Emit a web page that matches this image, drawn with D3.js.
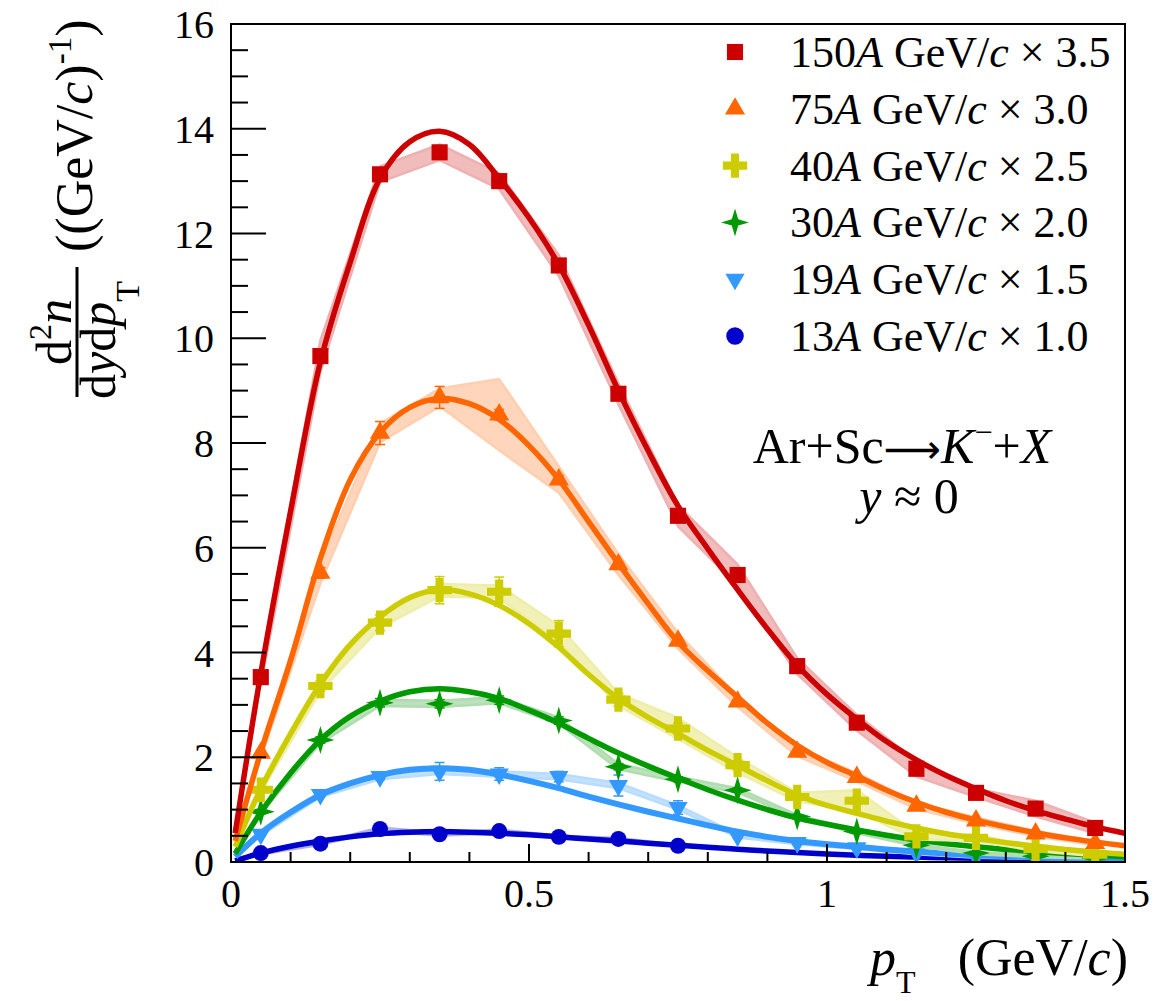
<!DOCTYPE html>
<html lang="en">
<head>
    <meta charset="utf-8">
    <title>K- spectra Ar+Sc</title>
    <script src="https://d3js.org/d3.v7.min.js"></script>
    <style>
        body { margin: 0; background: #fff; }
        text { font-family: "Liberation Serif", "Times New Roman", serif; fill: #000; }
    </style>
</head>
<body>
    <script>
        // measured pT bin centres (GeV/c)
        var ptX = [0.05, 0.15, 0.25, 0.35, 0.45, 0.55, 0.65, 0.75, 0.85, 0.95, 1.05, 1.15, 1.25, 1.35, 1.45];
        // pT where the fitted curves are read
        var fitX = [0.007, 0.05, 0.1, 0.15, 0.2, 0.25, 0.3, 0.35, 0.4, 0.45, 0.5, 0.55, 0.6, 0.65, 0.7, 0.75,
            0.8, 0.85, 0.9, 0.95, 1.0, 1.05, 1.1, 1.15, 1.2, 1.25, 1.3, 1.35, 1.4, 1.45, 1.5];

        var labels = ["150", "75", "40", "30", "19", "13"];
        var factors = ["3.5", "3.0", "2.5", "2.0", "1.5", "1.0"];
        var colors = ["#cc0000", "#ff6600", "#cccc00", "#009900", "#3399ff", "#0000cc"];
        var bandColors = ["#eeb0b0", "#ffcfb0", "#eeeeaa", "#b0dcb0", "#b8dcff", "#b0b0ee"];

        // data points (scaled)
        var v150 = [3.53, 9.66, 13.13, 13.55, 13.00, 11.39, 8.94, 6.61, 5.48, 3.74, 2.66, 1.78, 1.32, 1.02, 0.65];
        var v75 = [2.08, 5.52, 8.19, 8.87, 8.54, 7.30, 5.68, 4.22, 3.06, 2.10, 1.62, 1.07, 0.79, 0.54, 0.36];
        var v40 = [1.38, 3.36, 4.57, 5.19, 5.16, 4.36, 3.10, 2.55, 1.85, 1.24, 1.17, 0.49, 0.46, 0.25, 0.14];
        var v30 = [0.96, 2.33, 3.04, 3.02, 3.09, 2.70, 1.82, 1.58, 1.37, 0.87, 0.58, 0.32, 0.17, 0.11, 0.07];
        var v19 = [0.53, 1.29, 1.63, 1.73, 1.68, 1.63, 1.46, 1.04, 0.50, 0.37, 0.27, 0.17, 0.10, 0.07, 0.04];
        var v13 = [0.17, 0.35, 0.63, 0.53, 0.59, 0.48, 0.44, 0.31];

        // systematic uncertainties (bands)
        var sys150 = [0.15, 0.3, 0.15, 0.15, 0.15, 0.2, 0.2, 0.2, 0.2, 0.15, 0.15, 0.15, 0.08, 0.15, 0.1];
        var sys75 = [0.1, 0.2, 0.18, 0.17, 0.68, 0.25, 0.2, 0.15, 0.1, 0.08, 0.08, 0.06, 0.06, 0.05, 0.04];
        var sys40 = [0.05, 0.1, 0.1, 0.12, 0.12, 0.15, 0.12, 0.2, 0.15, 0.08, 0.2, 0.06, 0.06, 0.04, 0.03];
        var sys30 = [0.04, 0.06, 0.06, 0.06, 0.06, 0.06, 0.05, 0.05, 0.04, 0.03, 0.03, 0.02, 0.02, 0.02, 0.01];
        var sys19 = [0.03, 0.05, 0.05, 0.05, 0.05, 0.05, 0.05, 0.04, 0.03, 0.03, 0.02, 0.02, 0.02, 0.01, 0.01];
        var sys13 = [0.02, 0.02, 0.03, 0.03, 0.03, 0.02, 0.02, 0.02];

        // statistical uncertainties (error bars)
        var stat150 = [0.05, 0.1, 0.1, 0.1, 0.1, 0.08, 0.07, 0.06, 0.05, 0.04, 0.04, 0.03, 0.03, 0.03, 0.02];
        var stat75 = [0.05, 0.1, 0.22, 0.21, 0.1, 0.08, 0.06, 0.05, 0.04, 0.03, 0.03, 0.02, 0.02, 0.02, 0.02];
        var stat40 = [0.05, 0.1, 0.15, 0.26, 0.28, 0.25, 0.12, 0.1, 0.08, 0.06, 0.06, 0.04, 0.03, 0.03, 0.02];
        var stat30 = [0.04, 0.06, 0.08, 0.08, 0.08, 0.07, 0.06, 0.05, 0.04, 0.03, 0.03, 0.02, 0.02, 0.02, 0.01];
        var stat19 = [0.03, 0.05, 0.06, 0.17, 0.12, 0.1, 0.2, 0.13, 0.05, 0.04, 0.03, 0.02, 0.02, 0.02, 0.01];
        var stat13 = [0.02, 0.03, 0.04, 0.04, 0.04, 0.03, 0.03, 0.02];

        // fitted curves
        var fit150 = [0.55, 3.6, 6.7, 9.55, 11.45, 13.05, 13.75, 13.95, 13.7, 13.05, 12.3, 11.4, 10.25, 9.0, 7.85, 6.8,
            5.98, 5.2, 4.45, 3.76, 3.2, 2.73, 2.3, 1.95, 1.65, 1.4, 1.17, 0.98, 0.82, 0.67, 0.55];
        var fit75 = [0.4, 2.1, 3.85, 5.8, 7.3, 8.2, 8.68, 8.85, 8.75, 8.45, 7.95, 7.3, 6.5, 5.7, 4.93, 4.2,
            3.65, 3.15, 2.65, 2.23, 1.9, 1.64, 1.37, 1.14, 0.95, 0.8, 0.67, 0.56, 0.46, 0.38, 0.31];
        var fit40 = [0.29, 1.4, 2.45, 3.4, 4.15, 4.68, 5.05, 5.2, 5.12, 4.9, 4.55, 4.1, 3.58, 3.12, 2.76, 2.45,
            2.13, 1.84, 1.55, 1.28, 1.08, 0.93, 0.78, 0.65, 0.54, 0.45, 0.37, 0.3, 0.24, 0.19, 0.15];
        var fit30 = [0.16, 0.95, 1.7, 2.33, 2.78, 3.07, 3.25, 3.31, 3.25, 3.12, 2.9, 2.65, 2.36, 2.08, 1.83, 1.6,
            1.38, 1.18, 1.0, 0.84, 0.72, 0.61, 0.51, 0.42, 0.35, 0.29, 0.24, 0.2, 0.16, 0.13, 0.1];
        var fit19 = [0.1, 0.55, 0.95, 1.28, 1.5, 1.66, 1.76, 1.79, 1.76, 1.67, 1.55, 1.41, 1.25, 1.1, 0.96, 0.83,
            0.7, 0.58, 0.48, 0.4, 0.34, 0.29, 0.24, 0.2, 0.16, 0.13, 0.11, 0.09, 0.07, 0.06, 0.05];
        var fit13 = [0.02, 0.17, 0.3, 0.4, 0.48, 0.54, 0.57, 0.58, 0.57, 0.55, 0.52, 0.48, 0.44, 0.4, 0.36, 0.32,
            0.28, 0.245, 0.21, 0.18, 0.155, 0.13, 0.11, 0.095, 0.08, 0.07, 0.06, 0.05, 0.04, 0.035, 0.03];

        var xTicks = [0, 0.5, 1, 1.5];
        var xTickLabels = ["0", "0.5", "1", "1.5"];
        var yTicks = [0, 2, 4, 6, 8, 10, 12, 14, 16];

        var values = [v150, v75, v40, v30, v19, v13];
        var sysErr = [sys150, sys75, sys40, sys30, sys19, sys13];
        var statErr = [stat150, stat75, stat40, stat30, stat19, stat13];
        var fits = [fit150, fit75, fit40, fit30, fit19, fit13];
        var shapes = ["square", "triangle", "cross", "star", "down", "circle"];

        var w = 1163, h = 1001;
        var pL = 231, pR = 1125, pT = 24, pB = 862;

        var x = d3.scaleLinear().domain([0, 1.5]).range([pL, pR]);
        var y = d3.scaleLinear().domain([0, 16]).range([pB, pT]);

        var svg = d3.select("body").append("svg")
            .attr("width", w)
            .attr("height", h);

        svg.append("rect").attr("width", w).attr("height", h).attr("fill", "#fff");

        svg.append("clipPath").attr("id", "plot")
            .append("rect").attr("x", pL).attr("y", pT)
            .attr("width", pR - pL).attr("height", pB - pT);

        function markerPath(shape, big) {
            var k = big || 1;
            if (shape == "square") return d3.symbol(d3.symbolSquare, 260 * k * k)();
            if (shape == "triangle") return d3.symbol(d3.symbolTriangle, 175 * k * k)();
            if (shape == "down") return d3.symbol(d3.symbolTriangle, 160 * k * k)();
            if (shape == "cross") return d3.symbol(d3.symbolCross, 330 * k * k)();
            if (shape == "circle") return d3.symbol(d3.symbolCircle, 200 * k * k)();
            // four pointed star
            var R = 14 * k, s = 3.2 * k;
            return "M0," + (-R) + "L" + s + "," + (-s) + "L" + R + ",0L" + s + "," + s +
                "L0," + R + "L" + (-s) + "," + s + "L" + (-R) + ",0L" + (-s) + "," + (-s) + "Z";
        }

        var plot = svg.append("g").attr("clip-path", "url(#plot)");

        // draw lowest series first so the 150A set lies on top
        for (var i = 5; i >= 0; i--) {
            var pts = values[i].map(function (v, j) {
                return { x: ptX[j], y: v, s: sysErr[i][j], e: statErr[i][j] };
            });
            var g = plot.append("g");

            var band = d3.area()
                .x(function (d) { return x(d.x); })
                .y0(function (d) { return y(d.y - d.s); })
                .y1(function (d) { return y(d.y + d.s); });
            g.append("path")
                .attr("d", band(pts))
                .attr("fill", bandColors[i])
                .attr("fill-opacity", 0.85)
                .attr("stroke", bandColors[i])
                .attr("stroke-width", 2.5)
                .attr("stroke-linejoin", "round");

            var curve = d3.line()
                .x(function (d, j) { return x(fitX[j]); })
                .y(function (d) { return y(d); })
                .curve(d3.curveCatmullRom);
            g.append("path")
                .attr("d", curve(fits[i]))
                .attr("fill", "none")
                .attr("stroke", colors[i])
                .attr("stroke-width", i == 4 ? 6 : 5.5);

            var eb = g.selectAll(".eb").data(pts).enter().append("g");
            eb.append("line")
                .attr("x1", function (d) { return x(d.x); })
                .attr("x2", function (d) { return x(d.x); })
                .attr("y1", function (d) { return y(d.y - d.e); })
                .attr("y2", function (d) { return y(d.y + d.e); })
                .attr("stroke", colors[i]).attr("stroke-width", 1.5);
            [-1, 1].forEach(function (sg) {
                eb.append("line")
                    .attr("x1", function (d) { return x(d.x) - 5; })
                    .attr("x2", function (d) { return x(d.x) + 5; })
                    .attr("y1", function (d) { return y(d.y + sg * d.e); })
                    .attr("y2", function (d) { return y(d.y + sg * d.e); })
                    .attr("stroke", colors[i]).attr("stroke-width", 1.5);
            });

            g.selectAll(".m").data(pts).enter().append("path")
                .attr("d", markerPath(shapes[i]))
                .attr("transform", function (d) {
                    return "translate(" + x(d.x) + "," + y(d.y) + ")" + (shapes[i] == "down" ? " rotate(180)" : "");
                })
                .attr("fill", colors[i]);
        }

        // frame
        svg.append("rect")
            .attr("x", pL).attr("y", pT)
            .attr("width", pR - pL).attr("height", pB - pT)
            .attr("fill", "none").attr("stroke", "#000").attr("stroke-width", 2);

        // y axis ticks
        var yMinor = d3.range(0, 16.01, 0.5);
        svg.selectAll(".ymin").data(yMinor).enter().append("line")
            .attr("x1", pL).attr("x2", function (d) { return d % 2 == 0 ? pL + 35 : pL + 17; })
            .attr("y1", function (d) { return y(d); }).attr("y2", function (d) { return y(d); })
            .attr("stroke", "#000").attr("stroke-width", 2);
        svg.selectAll(".ylab").data(yTicks).enter().append("text")
            .attr("x", pL - 17).attr("y", function (d) { return y(d) + 14; })
            .attr("text-anchor", "end").attr("font-size", 40)
            .text(function (d) { return d; });

        // x axis ticks
        var xMinor = d3.range(0, 1.501, 0.1);
        svg.selectAll(".xmin").data(xMinor).enter().append("line")
            .attr("x1", function (d) { return x(d); }).attr("x2", function (d) { return x(d); })
            .attr("y1", pB)
            .attr("y2", function (d) { return Math.abs(d * 2 - Math.round(d * 2)) < 1e-6 ? pB - 18 : pB - 10; })
            .attr("stroke", "#000").attr("stroke-width", 2);
        svg.selectAll(".xlab").data(xTicks).enter().append("text")
            .attr("x", function (d) { return x(d); }).attr("y", pB + 45)
            .attr("text-anchor", "middle").attr("font-size", 40)
            .text(function (d, j) { return xTickLabels[j]; });

        // x title
        var xt = svg.append("text").attr("x", 1128).attr("y", 975)
            .attr("text-anchor", "end").attr("font-size", 52);
        xt.append("tspan").attr("font-style", "italic").text("p");
        xt.append("tspan").attr("font-size", 32).attr("dy", 18).text("T");
        xt.append("tspan").attr("dy", -18).attr("dx", 42).text("(GeV/");
        xt.append("tspan").attr("font-style", "italic").text("c");
        xt.append("tspan").text(")");

        // y title
        var yt = svg.append("g").attr("transform", "translate(77,332) rotate(-90)");
        var num = yt.append("text").attr("x", 0).attr("y", -6)
            .attr("text-anchor", "middle").attr("font-size", 50);
        num.append("tspan").text("d");
        num.append("tspan").attr("font-size", 32).attr("dy", -20).text("2");
        num.append("tspan").attr("dy", 20).attr("font-style", "italic").text("n");
        yt.append("line").attr("x1", -65).attr("x2", 65).attr("y1", 0).attr("y2", 0)
            .attr("stroke", "#000").attr("stroke-width", 3);
        var den = yt.append("text").attr("x", -8).attr("y", 38)
            .attr("text-anchor", "middle").attr("font-size", 50);
        den.append("tspan").text("d");
        den.append("tspan").attr("font-style", "italic").text("y");
        den.append("tspan").text("d");
        den.append("tspan").attr("font-style", "italic").text("p");
        den.append("tspan").attr("font-size", 34).attr("dy", 24).text("T");
        var unit = yt.append("text").attr("x", 80).attr("y", 15).attr("font-size", 52);
        unit.append("tspan").text("((GeV/");
        unit.append("tspan").attr("font-style", "italic").text("c");
        unit.append("tspan").text(")");
        unit.append("tspan").attr("font-size", 33).attr("dy", -21).text("-1");
        unit.append("tspan").attr("dy", 21).text(")");

        // legend
        labels.forEach(function (lab, i) {
            var ly = 52 + i * 56.8;
            svg.append("path")
                .attr("d", markerPath(shapes[i], i == 5 ? 1.1 : 1))
                .attr("transform", "translate(735," + ly + ")" + (shapes[i] == "down" ? " rotate(180)" : ""))
                .attr("fill", colors[i]);
            var t = svg.append("text").attr("x", 790).attr("y", ly + 15).attr("font-size", 44);
            t.append("tspan").text(lab);
            t.append("tspan").attr("font-style", "italic").text("A");
            t.append("tspan").text(" GeV/");
            t.append("tspan").attr("font-style", "italic").text("c");
            t.append("tspan").text(" \u00d7 " + factors[i]);
        });

        // reaction label
        var r1 = svg.append("text").attr("x", 902).attr("y", 463)
            .attr("text-anchor", "middle").attr("font-size", 50);
        r1.append("tspan").text("Ar+Sc");
        r1.append("tspan").attr("font-family", "DejaVu Sans").attr("font-size", 40).text("\u27f6");
        r1.append("tspan").attr("font-style", "italic").text("K");
        r1.append("tspan").attr("font-size", 32).attr("dy", -20).text("\u2212");
        r1.append("tspan").attr("dy", 20).text("+");
        r1.append("tspan").attr("font-style", "italic").text("X");
        var r2 = svg.append("text").attr("x", 909).attr("y", 513)
            .attr("text-anchor", "middle").attr("font-size", 50);
        r2.append("tspan").attr("font-style", "italic").text("y");
        r2.append("tspan").text(" \u2248 0");
    </script>
</body>
</html>
